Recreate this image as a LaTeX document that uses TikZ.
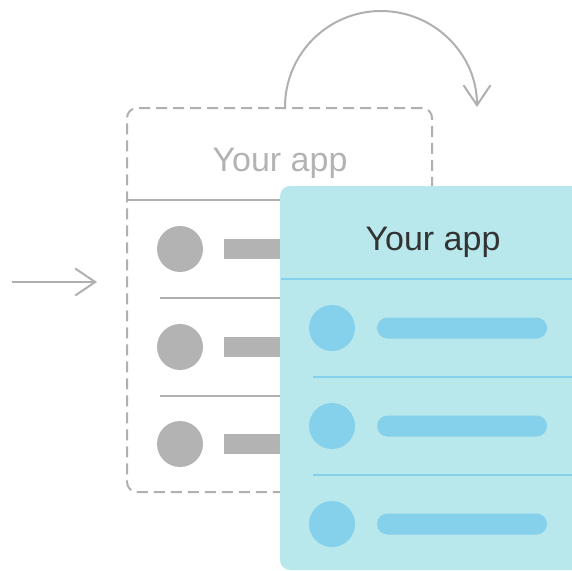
\documentclass[tikz,border=0pt]{standalone}
\usepackage{fontspec}
\setmainfont{Liberation Sans}
\usetikzlibrary{arrows.meta}
\definecolor{gr}{HTML}{B3B3B3}
\definecolor{lgr}{HTML}{B0B0B0}
\definecolor{bbg}{HTML}{B8E8EC}
\definecolor{bac}{HTML}{85D0EA}
\definecolor{dtx}{HTML}{333333}
\begin{document}
\begin{tikzpicture}[x=1pt,y=-1pt,
  card/.style={rectangle, rounded corners=10pt, minimum width=305pt, minimum height=384pt, inner sep=0pt, outer sep=0pt},
  ghost/.style={card, draw=lgr, line width=2pt, dash pattern=on 11pt off 6pt},
  live/.style={card, fill=bbg},
  title/.style={anchor=base, font=\fontsize{34}{34}\selectfont, inner sep=0pt},
  dot/.style={circle, minimum size=46pt, inner sep=0pt},
  sep/.style={line width=2pt},
  arr/.style={lgr, line width=2pt, -{Straight Barb[length=20pt,width=27pt,line width=2pt]}},
]
\useasboundingbox (0,0) rectangle (572,570);
\clip (0,0) rectangle (572,570);
% ghost card
\node[ghost] (g) at (279.5,300) {};
\node[title, text=gr] (gt) at (280,171) {Your app};
\draw[sep, lgr] (128,200) -- (431,200);
\foreach \y/\n in {249/1,347/2,444/3}{
  \node[dot, fill=gr] (gc\n) at (180,\y) {};
  \fill[gr] (224,\y-10) rectangle (420,\y+10);
}
\draw[sep, lgr] (160,298) -- (420,298);
\draw[sep, lgr] (160,396) -- (420,396);
% arrows
\coordinate (a0) at (12,282);
\coordinate (a1) at (97,282);
\draw[arr] (a0) -- (a1);
\coordinate (c0) at (285,107);
\draw[arr] (c0) arc[start angle=180, end angle=360, radius=96];
% live card
\node[live] (b) at (432.5,378) {};
\node[title, text=dtx] (bt) at (433,250) {Your app};
\draw[sep, bac] (281,279) -- (572,279);
\foreach \y/\n in {328/1,426/2,524/3}{
  \node[dot, fill=bac] (bc\n) at (332,\y) {};
  \fill[bac, rounded corners=10.5pt] (377,\y-10.5) rectangle (547,\y+10.5);
}
\draw[sep, bac] (313,377) -- (572,377);
\draw[sep, bac] (313,475) -- (572,475);
\end{tikzpicture}
\end{document}
